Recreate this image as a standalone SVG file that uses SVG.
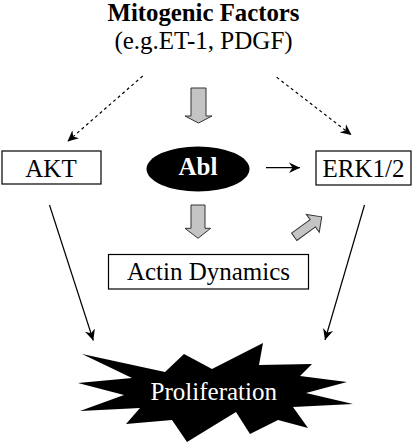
<svg xmlns="http://www.w3.org/2000/svg" width="417" height="444" viewBox="0 0 417 444" font-family="'Liberation Serif', 'DejaVu Serif', Tinos, serif">
<defs>
<style>
text{font-family:'Liberation Serif','DejaVu Serif',serif;font-size:25px;text-anchor:middle;fill:#000}
.box{fill:#fff;stroke:#000;stroke-width:1.2}
.ln{stroke:#000;stroke-width:1.2;fill:none}
.dash{stroke-dasharray:3,3}
.blk{fill:#c4c4c4;stroke:#333;stroke-width:1}
.w{fill:#fff}
</style>
<marker id="ah" markerUnits="userSpaceOnUse" markerWidth="12" markerHeight="12" refX="11" refY="6" orient="auto" viewBox="0 0 12 12">
<path d="M0,0.8 L11,6 L0,11.2 L3.5,6 z" fill="#000"/>
</marker>
</defs>
<g id="title">
<text x="203.5" y="21" font-weight="bold" font-size="21" textLength="192" lengthAdjust="spacingAndGlyphs">Mitogenic Factors</text>
<text x="203.5" y="48.5">(e.g.ET-1, PDGF)</text>
</g>
<g id="connectors">
<line class="ln dash" x1="142.7" y1="76" x2="67.5" y2="141.5" marker-end="url(#ah)"/>
<line class="ln dash" x1="276.7" y1="77.3" x2="351.5" y2="135" marker-end="url(#ah)"/>
<line class="ln" x1="266" y1="167.7" x2="300" y2="167.7" marker-end="url(#ah)"/>
<line class="ln" x1="49.5" y1="205" x2="93.3" y2="340.5" marker-end="url(#ah)"/>
<line class="ln" x1="364.5" y1="205" x2="325" y2="340" marker-end="url(#ah)"/>
<path class="blk" d="M191,88 H206 V116 H212 L198.5,123 L185,116 H191 Z"/>
<path class="blk" d="M191,205 H205 V228.3 H210.7 L198,238.3 L185,228.3 H191 Z"/>
<path class="blk" transform="translate(294.2,236.8) rotate(-36)" d="M0,-4.5 H23 V-11 L34,0 L23,11 V4.5 H0 Z"/>
</g>
<g id="akt">
<rect class="box" x="2" y="151" width="99" height="33"/>
<text x="51" y="176.5">AKT</text>
</g>
<g id="abl">
<ellipse cx="198" cy="169" rx="51.5" ry="22.5" fill="#000"/>
<text class="w" x="198" y="174.5" font-weight="bold" font-size="31">Abl</text>
</g>
<g id="erk">
<rect class="box" x="316" y="151" width="95" height="34"/>
<text x="363.5" y="176.5">ERK1/2</text>
</g>
<g id="actin">
<rect class="box" x="108.5" y="254.5" width="200" height="34.5"/>
<text x="208.5" y="280">Actin Dynamics</text>
</g>
<g id="proliferation">
<polygon fill="#000" points="82,354 165,372 184,354 212,369 263,343 259,365 312,364 300,376 347,382 306,393 353,404 293,407 308,428 278,420 250,434 236,412 187,442 172,420 126,424 140,408 80,411 124,395 78,383 132,378"/>
<text class="w" x="213.8" y="400">Proliferation</text>
</g>
</svg>
